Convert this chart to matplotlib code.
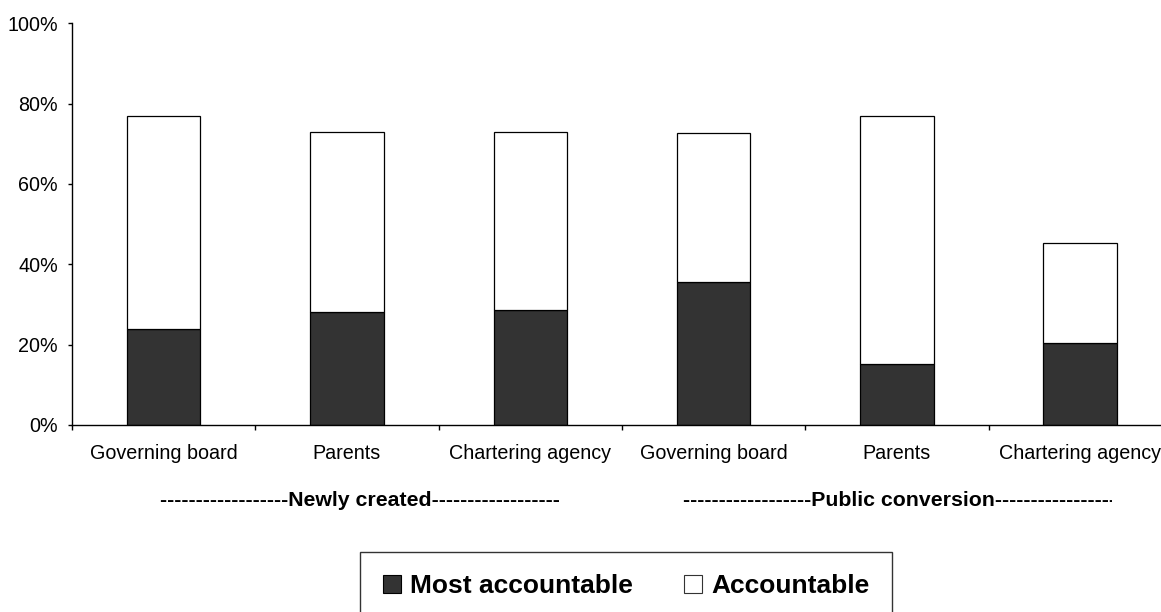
import matplotlib
matplotlib.use("Agg")
import matplotlib.pyplot as plt
from matplotlib.lines import Line2D
from matplotlib.transforms import Bbox, TransformedBbox, blended_transform_factory

# Responsibility categories (two school types, three categories each)
categories = ["Governing board", "Parents", "Chartering agency",
              "Governing board", "Parents", "Chartering agency"]
groups = ["Newly created", "Public conversion"]

# Share of respondents (%)
most_accountable = [24.0, 28.1, 28.6, 35.6, 15.1, 20.4]
accountable = [53.0, 44.9, 44.4, 37.1, 61.9, 25.0]

y_ticks = [0, 20, 40, 60, 80, 100]
y_tick_labels = [f"{v}%" for v in y_ticks]

plt.rcParams["font.family"] = ["Liberation Sans", "DejaVu Sans"]

W, H = 1161, 612
fig = plt.figure(figsize=(W / 100, H / 100), dpi=100)
ax = fig.add_axes([72 / W, 1 - 425 / H, (6 * 183.3) / W, (425 - 23.3) / H])

x = list(range(len(categories)))
ax.bar(x, most_accountable, width=0.4, color="#333333",
       edgecolor="black", linewidth=0.9, label="Most accountable", zorder=2)
ax.bar(x, accountable, width=0.4, bottom=most_accountable, color="white",
       edgecolor="black", linewidth=0.9, label="Accountable", zorder=2)

ax.set_xlim(-0.5, 5.5)
ax.set_ylim(0, 100)
ax.set_yticks(y_ticks)
ax.set_yticklabels(y_tick_labels, fontsize=14.2)
ax.set_xticks(x)
ax.set_xticklabels(categories, fontsize=14.2)
ax.set_xticks([i - 0.5 for i in range(len(categories) + 1)], minor=True)
ax.tick_params(axis="x", which="major", length=0, pad=14)
ax.tick_params(axis="x", which="minor", length=3.6, width=1, direction="out")
ax.tick_params(axis="y", length=2.9, width=1, direction="out", pad=7.2)

for side in ("top", "right"):
    ax.spines[side].set_visible(False)
for side in ("left", "bottom"):
    ax.spines[side].set_linewidth(1)
    ax.spines[side].set_color("black")

# Group captions under the category labels (data x, figure y)
blend = blended_transform_factory(ax.transData, fig.transFigure)
dash = "-" * 18
cap_y = 1 - 501 / H
ax.text(1.07, cap_y, f"{dash}{groups[0]}{dash}", transform=blend,
        fontsize=15.3, fontweight="bold", ha="center", va="center",
        clip_on=False)
t2 = ax.text(4.036, cap_y, f"{dash}{groups[1]}{dash}", transform=blend,
             fontsize=15.3, fontweight="bold", ha="center", va="center")
t2.set_clip_box(TransformedBbox(Bbox([[0, 0], [1112 / W, 1]]), fig.transFigure))
t2.set_clip_on(True)

handles = [
    Line2D([], [], linestyle="none", marker="s", markersize=13,
           markerfacecolor="#333333", markeredgecolor="black", markeredgewidth=0.8),
    Line2D([], [], linestyle="none", marker="s", markersize=13,
           markerfacecolor="white", markeredgecolor="#333333", markeredgewidth=0.8),
]
leg = fig.legend(handles, ["Most accountable", "Accountable"], ncol=2,
                 loc="upper left", bbox_to_anchor=(360 / W, 1 - 552 / H),
                 borderaxespad=0, frameon=True, fancybox=False,
                 prop={"size": 19, "weight": "bold"},
                 borderpad=0.85, handlelength=0.75, handletextpad=0.3,
                 columnspacing=1.9)
leg.get_frame().set_edgecolor("black")
leg.get_frame().set_linewidth(1)

fig.savefig("out.png", dpi=100)
